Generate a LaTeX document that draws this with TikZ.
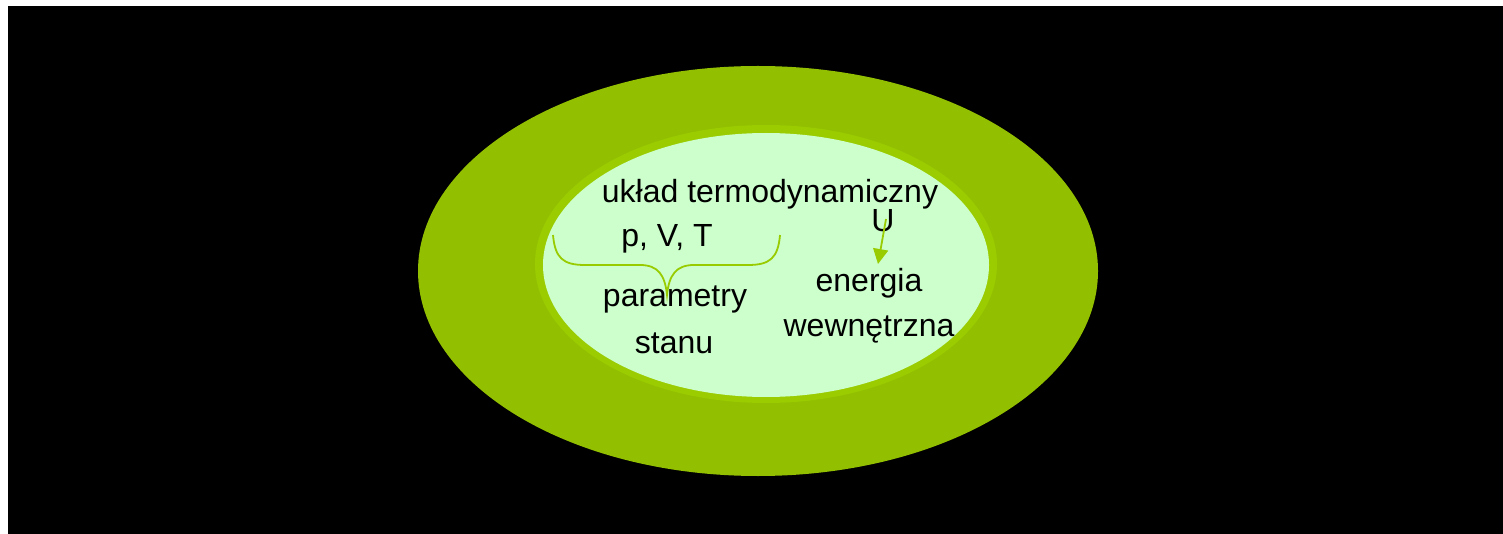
\documentclass[tikz,border=0pt]{standalone}
\usepackage{fontspec}
\setmainfont{Liberation Sans}
\definecolor{outergreen}{HTML}{92C000}
\definecolor{ringgreen}{HTML}{9ACC00}
\definecolor{innergreen}{HTML}{CCFFCC}
\definecolor{linegreen}{HTML}{99CC00}
\tikzset{
  lbl/.style={anchor=base, inner sep=0pt, font=\fontsize{32}{38}\selectfont, text=black},
  greenline/.style={draw=linegreen, line width=1.8pt},
  arr/.style={greenline, -{Triangle[length=15pt,width=15pt]}},
}
\usetikzlibrary{arrows.meta}
\begin{document}
\begin{tikzpicture}[x=1pt,y=-1pt]
\useasboundingbox (0,0) rectangle (1503,534);
\fill[white] (0,0) rectangle (1503,534);
\fill[black] (8,6) rectangle (1503,534);
\fill[outergreen] (758,271) ellipse [x radius=340, y radius=205];
\fill[ringgreen] (766,264) ellipse [x radius=231, y radius=139];
\fill[innergreen] (766,265) ellipse [x radius=223, y radius=132];
\node[lbl] (uklad) at (770,203) {układ termodynamiczny};
\node[lbl] (pvt) at (667,247) {p, V, T};
\node[lbl] (U) at (883,232) {U};
\node[lbl] (param) at (675,306) {parametry};
\node[lbl] (stanu) at (674,353) {stanu};
\node[lbl] (energia) at (869,291) {energia};
\node[lbl] (wewn) at (869,336) {wewnętrzna};
\coordinate (bl) at (553,235);
\coordinate (br) at (780,235);
\coordinate (btip) at (667,295);
\draw[greenline] (bl) .. controls (555,258) and (563,265) .. (585,265)
  -- (640,265) .. controls (658,265) and (665,275) .. (btip)
  .. controls (669,275) and (676,265) .. (694,265)
  -- (748,265) .. controls (770,265) and (778,258) .. (br);
\coordinate (utip) at (878,264);
\draw[arr] (886,219) -- (utip);
\end{tikzpicture}
\end{document}
